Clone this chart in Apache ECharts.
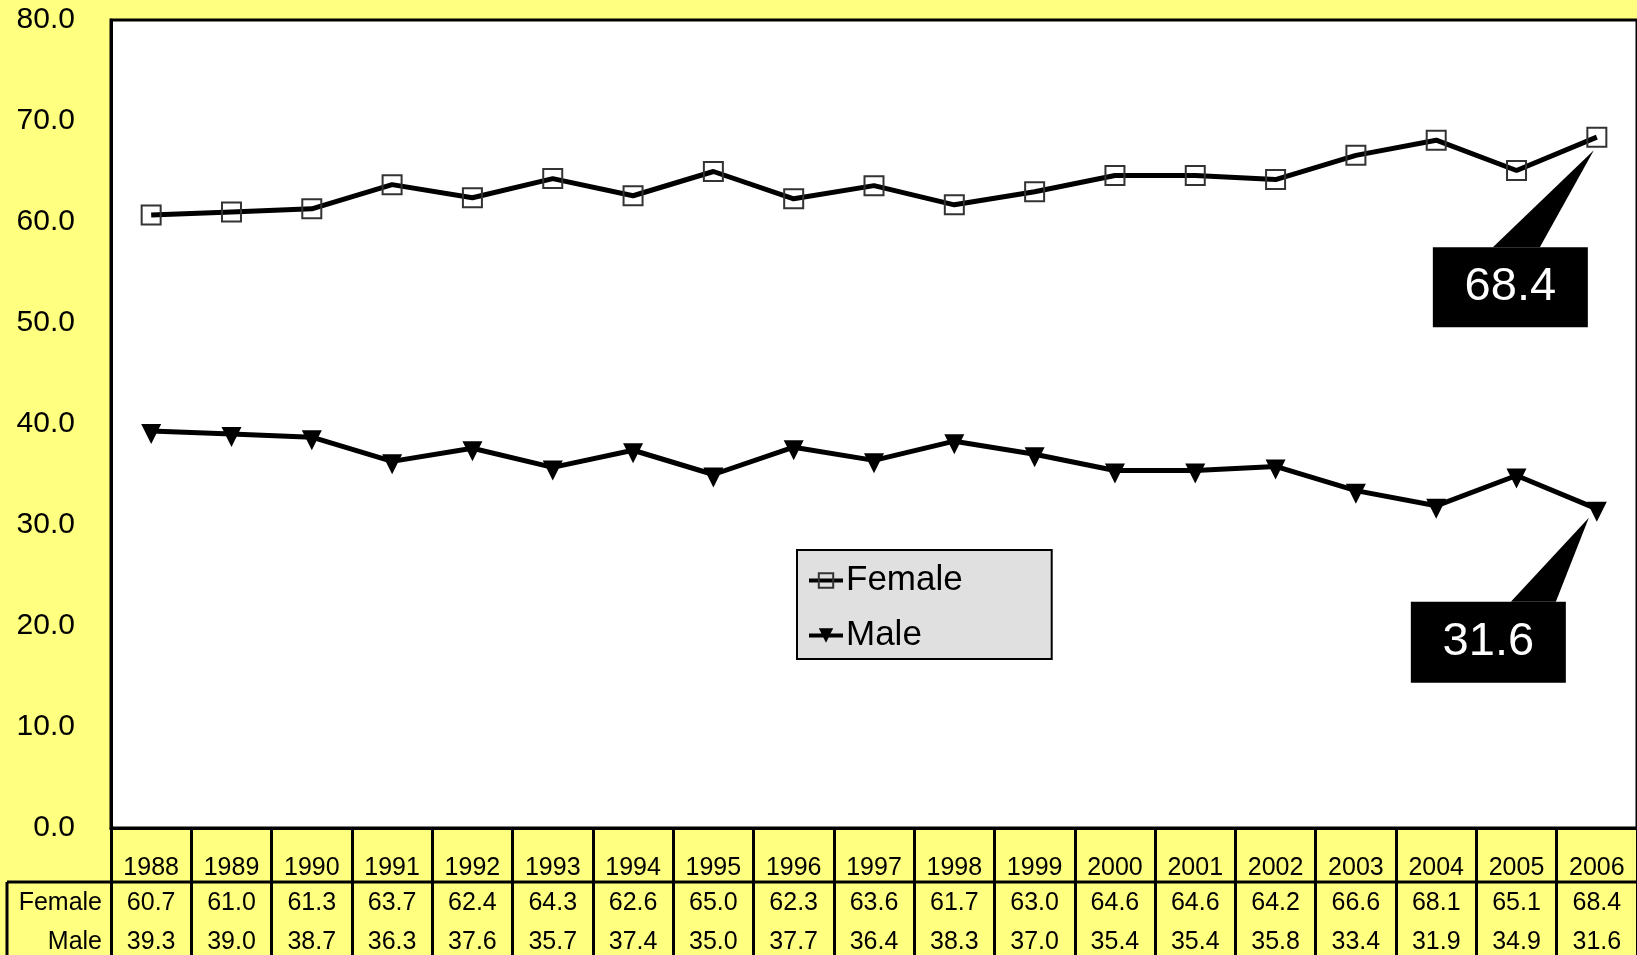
<!DOCTYPE html>
<html>
<head>
<meta charset="utf-8">
<script src="https://cdn.jsdelivr.net/npm/echarts@6/dist/echarts.min.js"></script>
<style>
html,body{margin:0;padding:0;background:#FFFF80;}
#chart{width:1637px;height:955px;}
</style>
</head>
<body>
<div id="chart"></div>
<script>
const years = ['1988','1989','1990','1991','1992','1993','1994','1995','1996','1997','1998','1999','2000','2001','2002','2003','2004','2005','2006'];
const female = [60.7,61.0,61.3,63.7,62.4,64.3,62.6,65.0,62.3,63.6,61.7,63.0,64.6,64.6,64.2,66.6,68.1,65.1,68.4];
const male = [39.3,39.0,38.7,36.3,37.6,35.7,37.4,35.0,37.7,36.4,38.3,37.0,35.4,35.4,35.8,33.4,31.9,34.9,31.6];
const yTicks = {min:0, max:80, interval:10};

const FONT = '"Liberation Sans", Arial, sans-serif';
const chart = echarts.init(document.getElementById('chart'), null, {renderer:'canvas'});

const GRID = {left:111, top:20, width:1529, bottom:127};
const TFS = 25;

const tableAxis = (fmt, margin, extra) => Object.assign({
  type:'category', data:years, gridIndex:0, position:'bottom',
  boundaryGap:true,
  axisLine:{show:false}, axisTick:{show:false}, splitLine:{show:false},
  axisLabel:{interval:0, margin:margin, fontSize:TFS, color:'#000', fontFamily:FONT, formatter:fmt}
}, extra||{});

chart.setOption({
  animation:false,
  backgroundColor:'#FFFF80',
  textStyle:{fontFamily:FONT},
  grid:Object.assign({show:true, backgroundColor:'#fff', borderColor:'#000', borderWidth:3, containLabel:false}, GRID),
  legend:{
    orient:'vertical', left:797, top:550,
    backgroundColor:'#E0E0E0', borderColor:'#000', borderWidth:2,
    padding:[13,89,6,10], itemGap:20, itemWidth:34, itemHeight:18,
    textStyle:{fontSize:35, color:'#000', fontFamily:FONT, padding:[0,0,0,-2]},
    lineStyle:{width:4, color:'#000'},
    data:['Female','Male']
  },
  xAxis:[
    tableAxis((v)=>v, 28, {
      axisLine:{show:true, lineStyle:{color:'#000', width:3}},
      axisTick:{show:true, interval:0, alignWithLabel:false, length:130, lineStyle:{color:'#000', width:3}}
    }),
    tableAxis((v,i)=>female[i].toFixed(1), 63),
    tableAxis((v,i)=>male[i].toFixed(1), 102)
  ],
  yAxis:{
    type:'value', min:yTicks.min, max:yTicks.max, interval:yTicks.interval,
    axisLine:{show:true, lineStyle:{color:'#000', width:3}},
    axisTick:{show:false}, splitLine:{show:false},
    axisLabel:{margin:36, fontSize:30, color:'#000', fontFamily:FONT, formatter:(v)=>v.toFixed(1)}
  },
  series:[
    {
      name:'Female', type:'line', data:female,
      symbol:'rect', symbolSize:19,
      itemStyle:{color:'rgba(0,0,0,0)', borderColor:'#333', borderWidth:2},
      lineStyle:{color:'#000', width:5}
    },
    {
      name:'Male', type:'line', data:male,
      symbol:'path://M0,0 L20,0 L10,20 Z', symbolSize:20, symbolOffset:[0,3],
      itemStyle:{color:'#000'},
      lineStyle:{color:'#000', width:5}
    }
  ]
});

// Table frame, row labels and callouts
const n = years.length;
const pF = chart.convertToPixel({seriesIndex:0}, [n-1, female[n-1]]);
const pM = chart.convertToPixel({seriesIndex:1}, [n-1, male[n-1]]);
const gridRight = GRID.left + GRID.width;
const bottomY = 955 - GRID.bottom;

function callout(p, val, box, base, tip){
  return [
    {type:'polygon', z:100, shape:{points:[[p[0]+base[0], p[1]+box.dy], [p[0]+base[1], p[1]+box.dy], [p[0]+tip[0], p[1]+tip[1]]]}, style:{fill:'#000'}},
    {type:'rect', z:100, shape:{x:p[0]+box.dx, y:p[1]+box.dy, width:box.w, height:box.h}, style:{fill:'#000'}},
    {type:'text', z:101, x:p[0]+box.dx+box.w/2, y:p[1]+box.dy+box.h/2,
      style:{text:val.toFixed(1), fill:'#fff', font:'47px '+FONT, align:'center', verticalAlign:'middle'}}
  ];
}

chart.setOption({
  graphic:[
    {type:'line', z:50, shape:{x1:7, y1:bottomY+54, x2:gridRight+5, y2:bottomY+54}, style:{stroke:'#000', lineWidth:3}},
    {type:'line', z:50, shape:{x1:7, y1:bottomY+54, x2:7, y2:960}, style:{stroke:'#000', lineWidth:3}},
    {type:'text', z:50, x:102, y:bottomY+75, style:{text:'Female', fill:'#000', font:TFS+'px '+FONT, align:'right', verticalAlign:'middle'}},
    {type:'text', z:50, x:102, y:bottomY+114, style:{text:'Male', fill:'#000', font:TFS+'px '+FONT, align:'right', verticalAlign:'middle'}}
  ].concat(
    callout(pF, female[n-1], {dx:-164, dy:110, w:155, h:80}, [-104,-57], [-3,13]),
    callout(pM, male[n-1], {dx:-186, dy:93, w:155, h:81}, [-86,-41], [-8,9])
  )
});
</script>
</body>
</html>
